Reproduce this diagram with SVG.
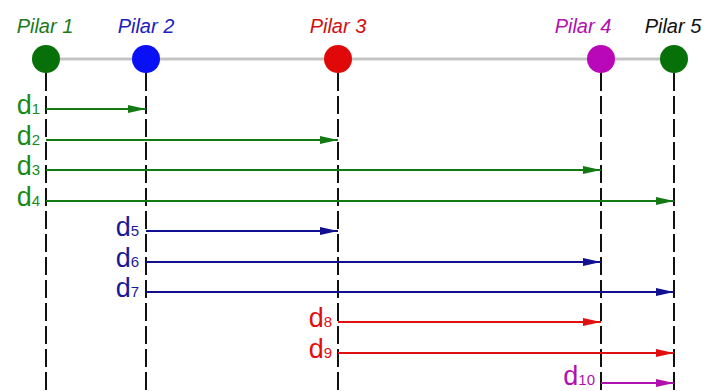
<svg xmlns="http://www.w3.org/2000/svg" width="707" height="391" viewBox="0 0 707 391">
<style>
.pl{font-family:"Liberation Sans",Arial,sans-serif;font-style:italic;font-size:20px;text-anchor:middle}
.dl{font-family:"Liberation Sans",Arial,sans-serif;font-size:27px;text-anchor:end}
.sub{font-size:15px}
.dash{stroke:#111;stroke-width:2;stroke-dasharray:18 5;fill:none}
.ar{stroke-width:2;fill:none}
.g{stroke:#137a13}.b{stroke:#101090}.r{stroke:#e01010}.m{stroke:#b010b0}
</style>
<defs>
<marker id="ag" markerWidth="18" markerHeight="8" refX="18" refY="4" orient="auto" markerUnits="userSpaceOnUse"><path d="M0,0 L18,4 L0,8 z" fill="#137a13"/></marker>
<marker id="ab" markerWidth="18" markerHeight="8" refX="18" refY="4" orient="auto" markerUnits="userSpaceOnUse"><path d="M0,0 L18,4 L0,8 z" fill="#101090"/></marker>
<marker id="ar" markerWidth="18" markerHeight="8" refX="18" refY="4" orient="auto" markerUnits="userSpaceOnUse"><path d="M0,0 L18,4 L0,8 z" fill="#e01010"/></marker>
<marker id="am" markerWidth="18" markerHeight="8" refX="18" refY="4" orient="auto" markerUnits="userSpaceOnUse"><path d="M0,0 L18,4 L0,8 z" fill="#b010b0"/></marker>
</defs>
<rect width="707" height="391" fill="#fff"/>
<line x1="46" y1="59" x2="674" y2="59" stroke="#c4c4c4" stroke-width="3"/>
<g id="dashes">
<line class="dash" x1="46" y1="73" x2="46" y2="391"/>
<line class="dash" x1="146" y1="73" x2="146" y2="391"/>
<line class="dash" x1="338" y1="73" x2="338" y2="391"/>
<line class="dash" x1="601" y1="73" x2="601" y2="391"/>
<line class="dash" x1="674" y1="73" x2="674" y2="391"/>
</g>
<g id="pilar1"><circle cx="46" cy="59" r="14" fill="#087008"/><text class="pl" x="45" y="33" fill="#1a7a1a">Pilar 1</text></g>
<g id="pilar2"><circle cx="146" cy="59" r="14" fill="#0a10f5"/><text class="pl" x="146" y="33" fill="#2020c0">Pilar 2</text></g>
<g id="pilar3"><circle cx="338" cy="59" r="14" fill="#e00808"/><text class="pl" x="338" y="33" fill="#d01010">Pilar 3</text></g>
<g id="pilar4"><circle cx="601" cy="59" r="14" fill="#b808b8"/><text class="pl" x="583" y="33" fill="#b010b0">Pilar 4</text></g>
<g id="pilar5"><circle cx="674" cy="59" r="14" fill="#087008"/><text class="pl" x="673" y="33" fill="#111">Pilar 5</text></g>
<g id="connectors">
<line class="ar g" x1="46" y1="109" x2="146" y2="109" marker-end="url(#ag)"/>
<line class="ar g" x1="46" y1="140" x2="338" y2="140" marker-end="url(#ag)"/>
<line class="ar g" x1="46" y1="170" x2="601" y2="170" marker-end="url(#ag)"/>
<line class="ar g" x1="46" y1="201" x2="674" y2="201" marker-end="url(#ag)"/>
<line class="ar b" x1="146" y1="231" x2="338" y2="231" marker-end="url(#ab)"/>
<line class="ar b" x1="146" y1="262" x2="601" y2="262" marker-end="url(#ab)"/>
<line class="ar b" x1="146" y1="292" x2="674" y2="292" marker-end="url(#ab)"/>
<line class="ar r" x1="338" y1="322" x2="601" y2="322" marker-end="url(#ar)"/>
<line class="ar r" x1="338" y1="353" x2="674" y2="353" marker-end="url(#ar)"/>
<line class="ar m" x1="601" y1="383" x2="674" y2="383" marker-end="url(#am)"/>
</g>
<g id="labels">
<text class="dl" x="40" y="114" fill="#1a8a1a">d<tspan class="sub">1</tspan></text>
<text class="dl" x="40" y="145" fill="#1a8a1a">d<tspan class="sub">2</tspan></text>
<text class="dl" x="40" y="175" fill="#1a8a1a">d<tspan class="sub">3</tspan></text>
<text class="dl" x="40" y="206" fill="#1a8a1a">d<tspan class="sub">4</tspan></text>
<text class="dl" x="139" y="236" fill="#1a1a99">d<tspan class="sub">5</tspan></text>
<text class="dl" x="139" y="267" fill="#1a1a99">d<tspan class="sub">6</tspan></text>
<text class="dl" x="139" y="297" fill="#1a1a99">d<tspan class="sub">7</tspan></text>
<text class="dl" x="332" y="327" fill="#e01010">d<tspan class="sub">8</tspan></text>
<text class="dl" x="332" y="358" fill="#e01010">d<tspan class="sub">9</tspan></text>
<text class="dl" x="595" y="385" fill="#b010b0">d<tspan class="sub">10</tspan></text>
</g>
</svg>
